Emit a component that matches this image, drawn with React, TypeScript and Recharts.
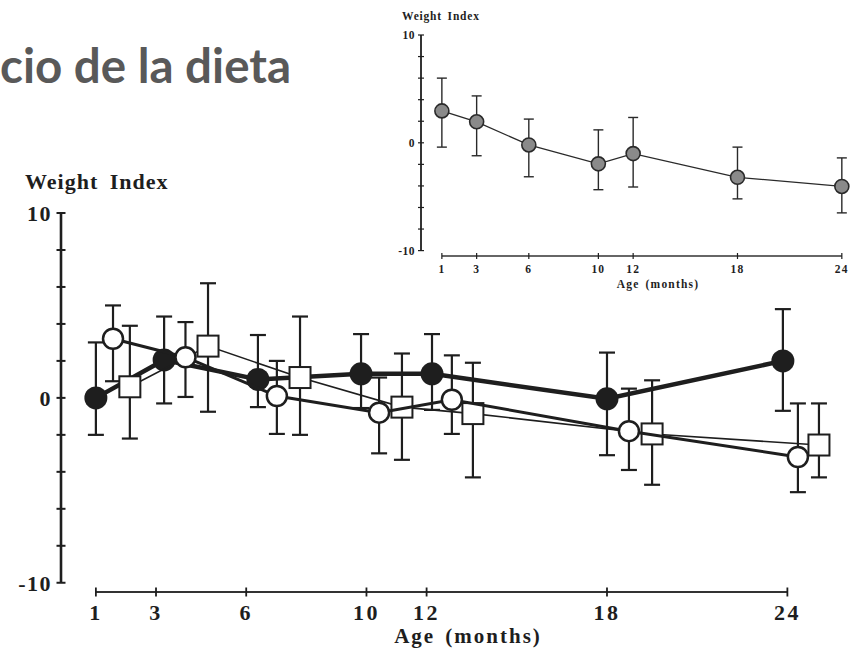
import React from 'react';
import { ScatterChart, Scatter, XAxis, YAxis, ErrorBar, ReferenceLine } from 'recharts';

const ageTicks = [1, 3, 6, 10, 12, 18, 24];
const indexTicks = [-10, -8, -6, -4, -2, 0, 2, 4, 6, 8, 10];
const labelledIndex = [-10, 0, 10];

// main figure: three groups, x slightly shifted per group like in the original
const filledAge = [1, 3.27, 6.39, 9.82, 12.18, 18.0, 23.85];
const filledMean = [0, 2.05, 1.0, 1.3, 1.3, -0.05, 2.0];
const filledHigh = [3.0, 4.4, 3.4, 3.45, 3.45, 2.45, 4.8];
const filledLow = [-2.0, -0.3, -0.5, -0.55, -0.65, -3.1, -0.7];

const openAge = [1.57, 3.98, 7.02, 10.42, 12.84, 18.73, 24.35];
const openMean = [3.2, 2.2, 0.1, -0.8, -0.1, -1.8, -3.2];
const openHigh = [5.0, 4.1, 2.0, 1.1, 2.3, 0.5, -0.3];
const openLow = [0.9, 0.05, -1.95, -3.0, -1.95, -3.9, -5.1];

const squareAge = [2.13, 4.73, 7.79, 11.18, 13.54, 19.5, 25.05];
const squareMean = [0.6, 2.8, 1.1, -0.5, -0.85, -1.95, -2.55];
const squareHigh = [3.9, 6.2, 4.4, 2.4, 1.9, 0.95, -0.3];
const squareLow = [-2.2, -0.75, -2.0, -3.35, -4.3, -4.7, -4.3];

// small inset figure
const insetAge = [1, 3, 6, 10, 12, 18, 24];
const insetMean = [2.96, 1.95, -0.2, -1.95, -1.0, -3.2, -4.05];
const insetHigh = [6.0, 4.35, 2.2, 1.2, 2.35, -0.4, -1.4];
const insetLow = [-0.4, -1.2, -3.15, -4.35, -4.1, -5.2, -6.5];

const toPoints = (ages: number[], mean: number[], low: number[], high: number[]) =>
  ages.map((x, i) => ({ x, y: mean[i], err: [mean[i] - low[i], high[i] - mean[i]] }));

const filledData = toPoints(filledAge, filledMean, filledLow, filledHigh);
const openData = toPoints(openAge, openMean, openLow, openHigh);
const squareData = toPoints(squareAge, squareMean, squareLow, squareHigh);
const insetData = toPoints(insetAge, insetMean, insetLow, insetHigh);

const INK = '#1e1e1e';
const SERIF = "'Liberation Serif', 'Times New Roman', serif";

const MAIN_X: [number, number] = [-0.16, 25.75];
const INSET_X: [number, number] = [-0.2, 24.47];

const FilledDot = (p: any) => <circle cx={p.cx} cy={p.cy} r={11.5} fill={INK} />;
const OpenDot = (p: any) => (
  <circle cx={p.cx} cy={p.cy} r={10} fill="#fff" stroke={INK} strokeWidth={2.5} />
);
const SquareDot = (p: any) => (
  <rect x={p.cx - 10.5} y={p.cy - 10.5} width={21} height={21} fill="#fff" stroke={INK} strokeWidth={2} />
);
const GreyDot = (p: any) => (
  <circle cx={p.cx} cy={p.cy} r={7} fill="#8a8a8a" stroke="#2a2a2a" strokeWidth={1.6} />
);

const makeXTick = (half: number, gap: number, size: number, spacing: number, sw: number) => (p: any) => (
  <g>
    <line x1={p.x} x2={p.x} y1={p.y - half} y2={p.y + half} stroke={INK} strokeWidth={sw} />
    <text x={p.x} y={p.y + gap} textAnchor="middle" fontFamily={SERIF} fontWeight="bold"
      fontSize={size} fill={INK} style={{ letterSpacing: spacing }}>
      {p.payload.value}
    </text>
  </g>
);

const makeYTick = (half: number, gap: number, size: number, spacing: number, sw: number) => (p: any) => (
  <g>
    <line x1={p.x - half} x2={p.x + half} y1={p.y} y2={p.y} stroke={INK} strokeWidth={sw} />
    {labelledIndex.includes(p.payload.value) && (
      <text x={p.x - gap} y={p.y} dy="0.36em" textAnchor="end" fontFamily={SERIF} fontWeight="bold"
        fontSize={size} fill={INK} style={{ letterSpacing: spacing }}>
        {p.payload.value}
      </text>
    )}
  </g>
);

export default function App() {
  return (
    <div style={{ position: 'absolute', left: 0, top: 0, width: 859, height: 649, background: '#fff' }}>
      {/* main chart */}
      <div style={{ position: 'absolute', left: 0, top: 0 }}>
        <ScatterChart width={859} height={649} margin={{ top: 213, right: 19, left: 0, bottom: 0 }}>
          <XAxis type="number" dataKey="x" domain={MAIN_X} allowDataOverflow ticks={ageTicks}
            axisLine={false} tickLine={false} tickSize={0} tickMargin={0} height={57}
            interval={0} tick={makeXTick(4.5, 28, 22, 2.5, 1.8)} />
          <YAxis type="number" dataKey="y" domain={[-10.5, 10]} allowDataOverflow ticks={indexTicks}
            axisLine={false} tickLine={false} tickSize={0} tickMargin={0} width={61}
            interval={0} tick={makeYTick(4.5, 9, 22, 1.5, 2)} />
          <ReferenceLine segment={[{ x: MAIN_X[0], y: -10 }, { x: MAIN_X[0], y: 10 }]}
            stroke={INK} strokeWidth={2.6} ifOverflow="visible" />
          <ReferenceLine segment={[{ x: 1, y: -10.5 }, { x: 24, y: -10.5 }]}
            stroke="#333" strokeWidth={2} ifOverflow="visible" />
          <Scatter data={filledData} line={{ stroke: INK, strokeWidth: 4.5 }} lineType="joint"
            shape={FilledDot} isAnimationActive={false}>
            <ErrorBar dataKey="err" direction="y" width={8} stroke={INK} strokeWidth={2.2} />
          </Scatter>
          <Scatter data={squareData} line={{ stroke: INK, strokeWidth: 1.6 }} lineType="joint"
            shape={SquareDot} isAnimationActive={false}>
            <ErrorBar dataKey="err" direction="y" width={8} stroke={INK} strokeWidth={2.2} />
          </Scatter>
          <Scatter data={openData} line={{ stroke: INK, strokeWidth: 3 }} lineType="joint"
            shape={OpenDot} isAnimationActive={false}>
            <ErrorBar dataKey="err" direction="y" width={8} stroke={INK} strokeWidth={2.2} />
          </Scatter>
        </ScatterChart>
      </div>

      {/* inset chart */}
      <div style={{ position: 'absolute', left: 360, top: 0 }}>
        <ScatterChart width={499} height={300} margin={{ top: 35, right: 9, left: 0, bottom: 0 }}>
          <XAxis type="number" dataKey="x" domain={INSET_X} allowDataOverflow ticks={ageTicks}
            axisLine={false} tickLine={false} tickSize={0} tickMargin={0} height={44}
            interval={0} tick={makeXTick(3, 17, 11.5, 1.2, 1.2)} />
          <YAxis type="number" dataKey="y" domain={[-10.5, 10]} allowDataOverflow ticks={indexTicks}
            axisLine={false} tickLine={false} tickSize={0} tickMargin={0} width={61}
            interval={0} tick={makeYTick(3, 6, 11.5, 0.5, 1.2)} />
          <ReferenceLine segment={[{ x: INSET_X[0], y: -10 }, { x: INSET_X[0], y: 10 }]}
            stroke={INK} strokeWidth={1.8} ifOverflow="visible" />
          <ReferenceLine segment={[{ x: 1, y: -10.5 }, { x: 24, y: -10.5 }]}
            stroke="#333" strokeWidth={1.6} ifOverflow="visible" />
          <Scatter data={insetData} line={{ stroke: '#2a2a2a', strokeWidth: 1.3 }} lineType="joint"
            shape={GreyDot} isAnimationActive={false}>
            <ErrorBar dataKey="err" direction="y" width={5} stroke="#2a2a2a" strokeWidth={1.4} />
          </Scatter>
        </ScatterChart>
      </div>

      {/* titles */}
      <svg width={859} height={649} style={{ position: 'absolute', left: 0, top: 0, pointerEvents: 'none' }}>
        <text x={0} y={83} fontFamily="Lato, 'Open Sans', sans-serif" fontWeight="bold" fontSize={47.5} fill="#595959">
          cio de la dieta
        </text>
        <text x={25} y={189} fontFamily={SERIF} fontWeight="bold" fontSize={22} fill={INK}
          style={{ letterSpacing: 1, wordSpacing: 5 }}>
          Weight Index
        </text>
        <text x={468} y={643} textAnchor="middle" fontFamily={SERIF} fontWeight="bold" fontSize={21} fill={INK}
          style={{ letterSpacing: 2, wordSpacing: 3 }}>
          Age (months)
        </text>
        <text x={402} y={20} fontFamily={SERIF} fontWeight="bold" fontSize={11.5} fill={INK}
          style={{ letterSpacing: 0.8, wordSpacing: 2 }}>
          Weight Index
        </text>
        <text x={658} y={288} textAnchor="middle" fontFamily={SERIF} fontWeight="bold" fontSize={11.5} fill={INK}
          style={{ letterSpacing: 1.2, wordSpacing: 2 }}>
          Age (months)
        </text>
      </svg>
    </div>
  );
}
